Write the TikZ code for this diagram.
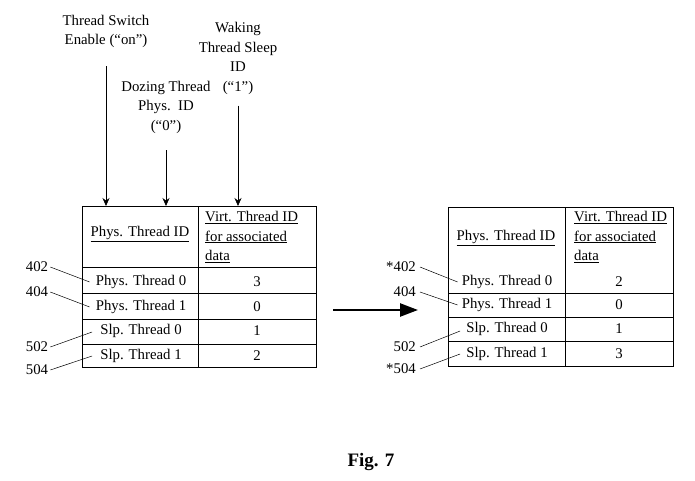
\documentclass[tikz,border=0pt]{standalone}
\usepackage{fontspec}
\setmainfont{Liberation Serif}
\usetikzlibrary{calc,arrows.meta}

\begin{document}
\begin{tikzpicture}[x=1pt, y=-1pt, font=\fontsize{14.8}{19.5}\selectfont,
	cell/.style={inner sep=0pt},
	lbl/.style={align=center, inner sep=0pt},
	feed/.style={line width=0.7pt, -{Stealth[length=8pt, width=7pt]}},
	lead/.style={line width=0.5pt}]
			%%%%% START %%%%%
			\useasboundingbox (0, 0) rectangle (695, 481);
			
			% signals above the left table
			\node[lbl] (tse) at (106, 31.5) {Thread Switch\\Enable (``on'')};
			\node[lbl] (wts) at (238, 58.5) {Waking\\Thread Sleep\\ID\\(``1'')};
			\node[lbl] (dtp) at (166, 107) {Dozing Thread\\Phys.~~ID\\(``0'')};
			\coordinate (ltop) at (0, 206);
			
			\draw[feed] ([yshift=-18pt]tse.south) -- (tse.south |- ltop);
			\draw[feed] ([yshift=-11pt]wts.south) -- (wts.south |- ltop);
			\draw[feed] ([yshift=-17pt]dtp.south) -- (dtp.south |- ltop);
			
			% left table
			\draw[line width=1pt] (82, 206) rectangle (316, 367);
			\draw[line width=0.9pt] (198, 206) -- (198, 367);
			\draw[line width=0.9pt] (82, 267) -- (316, 267);
			\draw[line width=0.9pt] (82, 293) -- (316, 293);
			\draw[line width=0.9pt] (82, 319) -- (316, 319);
			\draw[line width=0.9pt] (82, 344) -- (316, 344);
			
			\node[cell] (lhp) at (140, 234) {\underline{Phys. Thread ID}};
			\node[cell, align=left, anchor=west] (lhv) at (205, 237) {\underline{Virt. Thread ID}\\\underline{for associated}\\\underline{data}};
			
			\node[cell] (lp0) at (141, 282) {Phys. Thread 0};
			\node[cell] (lp1) at (141, 307) {Phys. Thread 1};
			\node[cell] (ls0) at (141, 331) {Slp. Thread 0};
			\node[cell] (ls1) at (141, 356) {Slp. Thread 1};
			\node[cell] (lv0) at (257, 282) {3};
			\node[cell] (lv1) at (257, 307) {0};
			\node[cell] (lv2) at (257, 331) {1};
			\node[cell] (lv3) at (257, 356) {2};
			
			\node[cell] (l402) at (37, 267) {402};
			\node[cell] (l404) at (37, 292) {404};
			\node[cell] (l502) at (37, 347) {502};
			\node[cell] (l504) at (37, 370) {504};
			\draw[lead] ([xshift=2pt]l402.east) -- ([xshift=-6pt]lp0.west);
			\draw[lead] ([xshift=2pt]l404.east) -- ([xshift=-6pt]lp1.west);
			\draw[lead] ([xshift=2pt]l502.east) -- ([xshift=-8pt, yshift=-1pt]ls0.west);
			\draw[lead] ([xshift=2pt]l504.east) -- ([xshift=-8pt]ls1.west);
			
			% transition
			\coordinate (tfrom) at (333, 310);
			\coordinate (tto) at (418, 310);
			\draw[line width=2.4pt, -{Triangle[length=18pt, width=13pt]}] (tfrom) -- (tto);
			
			% right table
			\draw[line width=1pt] (448, 207) rectangle (673, 366);
			\draw[line width=0.9pt] (565, 207) -- (565, 366);
			\draw[line width=0.9pt] (448, 293) -- (673, 293);
			\draw[line width=0.9pt] (448, 317) -- (673, 317);
			\draw[line width=0.9pt] (448, 341) -- (673, 341);
			
			\node[cell] (rhp) at (506, 238) {\underline{Phys. Thread ID}};
			\node[cell, align=left, anchor=west] (rhv) at (574, 237) {\underline{Virt. Thread ID}\\\underline{for associated}\\\underline{data}};
			
			\node[cell] (rp0) at (507, 282) {Phys. Thread 0};
			\node[cell] (rp1) at (507, 305) {Phys. Thread 1};
			\node[cell] (rs0) at (507, 329) {Slp. Thread 0};
			\node[cell] (rs1) at (507, 354) {Slp. Thread 1};
			\node[cell] (rv0) at (619, 282) {2};
			\node[cell] (rv1) at (619, 305) {0};
			\node[cell] (rv2) at (619, 329) {1};
			\node[cell] (rv3) at (619, 354) {3};
			
			\node[cell, anchor=east] (r402) at (416, 267) {*402};
			\node[cell, anchor=east] (r404) at (416, 292) {404};
			\node[cell, anchor=east] (r502) at (416, 347) {502};
			\node[cell, anchor=east] (r504) at (416, 369) {*504};
			\draw[lead] ([xshift=4pt]r402.east) -- ([xshift=-4pt]rp0.west);
			\draw[lead] ([xshift=4pt]r404.east) -- ([xshift=-4pt]rp1.west);
			\draw[lead] ([xshift=4pt]r502.east) -- ([xshift=-6pt, yshift=-2pt]rs0.west);
			\draw[lead] ([xshift=4pt]r504.east) -- ([xshift=-6pt]rs1.west);
			
			\node[cell, font=\fontsize{19}{22}\selectfont\bfseries] (fig) at (371, 462) {Fig. 7};
			%%%%% END %%%%%
\end{tikzpicture}
\end{document}
